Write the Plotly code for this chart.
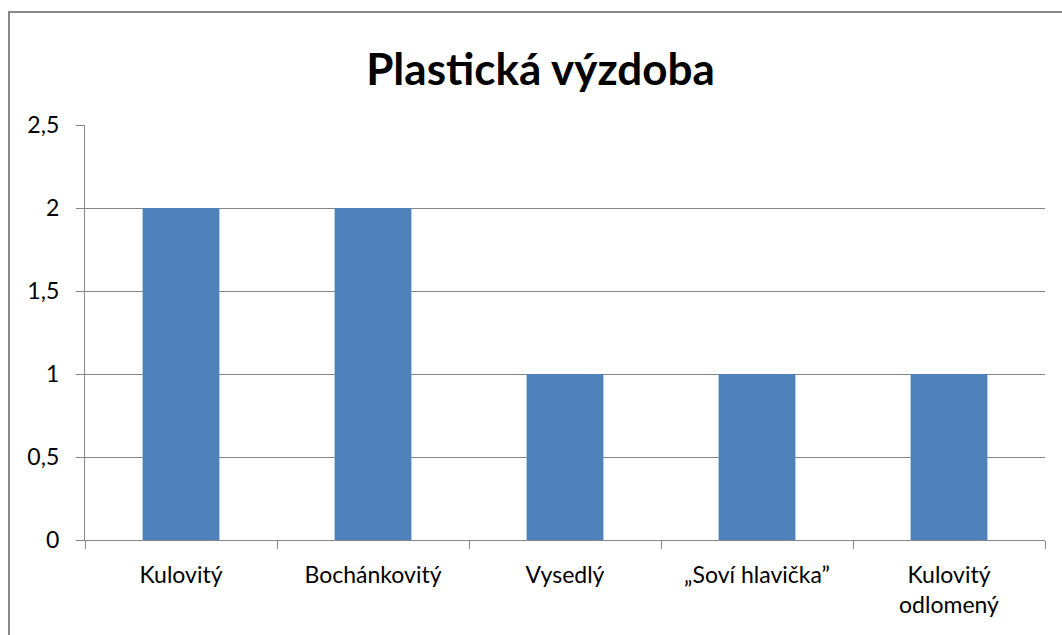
import plotly.graph_objects as go

categories = ["Kulovitý", "Bochánkovitý", "Vysedlý", "„Soví hlavička”", "Kulovitý<br>odlomený"]
values = [2, 2, 1, 1, 1]
y_ticks = [0, 0.5, 1, 1.5, 2, 2.5]
title_text = "Plastická výzdoba"

FONT = "Lato"
GRID = "#868686"

fig = go.Figure(
    go.Bar(
        x=categories,
        y=values,
        marker=dict(color="#4F81BD", line=dict(width=0)),
        hoverinfo="x+y",
    )
)

fig.update_layout(
    width=1062,
    height=635,
    margin=dict(l=85, r=17, t=125, b=95),
    paper_bgcolor="white",
    plot_bgcolor="white",
    separators=", ",
    bargap=0.6,
    showlegend=False,
    font=dict(family=FONT, size=23, color="black"),
    title=dict(
        text="<b>" + title_text + "</b>",
        font=dict(family=FONT, size=44, color="black"),
        x=0.509,
        xref="container",
        xanchor="center",
        y=1 - 70 / 635,
        yref="container",
        yanchor="middle",
    ),
    shapes=[
        dict(
            type="rect",
            xref="paper",
            yref="paper",
            x0=(9 - 85) / 960,
            x1=(1075 - 85) / 960,
            y0=(540 - 12) / 415,
            y1=(540 - 650) / 415,
            line=dict(color="#888888", width=2),
            fillcolor="rgba(0,0,0,0)",
            layer="below",
        )
    ],
)

fig.update_xaxes(
    showline=True,
    linecolor=GRID,
    linewidth=1.3,
    ticks="outside",
    tickson="boundaries",
    ticklen=8,
    tickcolor=GRID,
    tickwidth=1.3,
    showgrid=False,
    tickfont=dict(family=FONT, size=23, color="black"),
    ticklabelstandoff=14,
)

fig.update_yaxes(
    range=[0, 2.5],
    tickvals=y_ticks,
    showline=True,
    linecolor=GRID,
    linewidth=1.3,
    ticks="outside",
    ticklen=8,
    tickcolor=GRID,
    tickwidth=1.3,
    showgrid=True,
    gridcolor=GRID,
    gridwidth=1.3,
    zeroline=False,
    tickfont=dict(family=FONT, size=23, color="black"),
    ticklabelstandoff=12,
)

fig.write_html(
    "out.html",
    config={"displayModeBar": False},
    post_script="document.body.style.margin='0';document.body.style.overflow='hidden';",
)
